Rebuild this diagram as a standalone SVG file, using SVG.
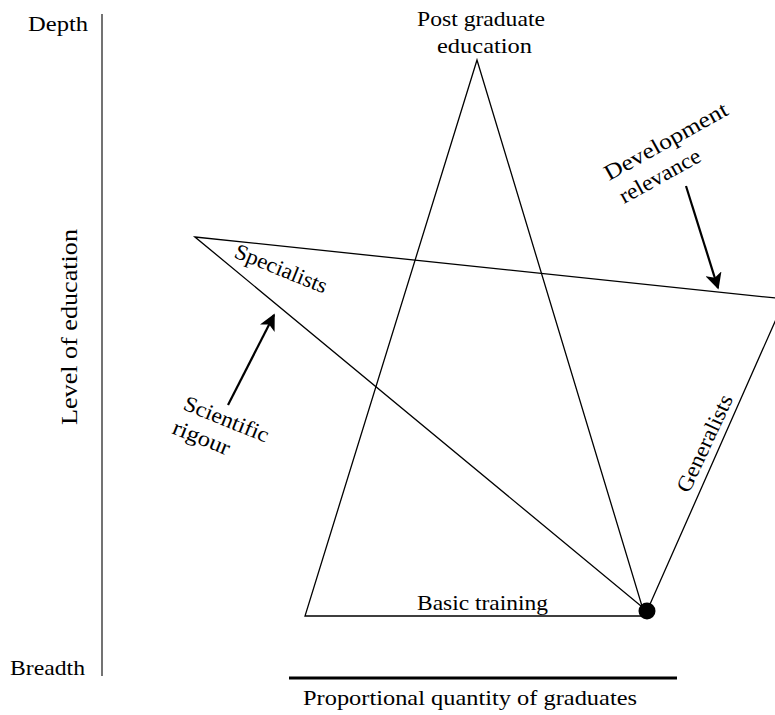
<svg xmlns="http://www.w3.org/2000/svg" width="775" height="715" viewBox="0 0 775 715">
<defs>
<marker id="ah" viewBox="0 0 10 10" refX="9" refY="5" markerWidth="7.5" markerHeight="7.5" markerUnits="strokeWidth" orient="auto">
<path d="M0,0 L10,5 L0,10 L2.5,5 z" fill="#000"/>
</marker>
</defs>
<rect width="775" height="715" fill="#fff"/>
<g id="axes">
<line x1="102" y1="14" x2="102" y2="676" stroke="#444" stroke-width="1.5"/>
<line x1="289" y1="678" x2="677" y2="678" stroke="#000" stroke-width="3"/>
<text x="28" y="31" style="font-family:'Liberation Serif',serif" font-size="22" textLength="60" lengthAdjust="spacingAndGlyphs">Depth</text>
<text x="10" y="675" style="font-family:'Liberation Serif',serif" font-size="22" textLength="75" lengthAdjust="spacingAndGlyphs">Breadth</text>
<text transform="translate(77,327) rotate(-90)" text-anchor="middle" style="font-family:'Liberation Serif',serif" font-size="23" textLength="196" lengthAdjust="spacingAndGlyphs">Level of education</text>
<text x="303" y="705" style="font-family:'Liberation Serif',serif" font-size="22" textLength="334" lengthAdjust="spacingAndGlyphs">Proportional quantity of graduates</text>
</g>
<g id="connectors" fill="none" stroke="#000">
<polygon stroke-width="1.3" points="477,60 305,616 645,616"/>
<polygon stroke-width="1.3" points="195,237 785,299 647,611"/>
<line stroke-width="2.2" x1="686" y1="186" x2="718" y2="288" marker-end="url(#ah)"/>
<line stroke-width="2.2" x1="228" y1="405" x2="274" y2="315" marker-end="url(#ah)"/>
</g>
<g id="node-dot"><circle cx="647" cy="611" r="8.5" fill="#000"/></g>
<g id="node-postgrad">
<text x="417" y="26" style="font-family:'Liberation Serif',serif" font-size="22" textLength="128" lengthAdjust="spacingAndGlyphs">Post graduate</text>
<text x="437" y="53" style="font-family:'Liberation Serif',serif" font-size="22" textLength="95" lengthAdjust="spacingAndGlyphs">education</text>
</g>
<g id="node-basic"><text x="417" y="610" style="font-family:'Liberation Serif',serif" font-size="22" textLength="131" lengthAdjust="spacingAndGlyphs">Basic training</text></g>
<g id="node-specialists"><text transform="translate(233,257) rotate(22)" style="font-family:'Liberation Serif',serif" font-size="22" textLength="98" lengthAdjust="spacingAndGlyphs">Specialists</text></g>
<g id="node-generalists"><text transform="translate(689,494) rotate(-65)" style="font-family:'Liberation Serif',serif" font-size="22" textLength="105" lengthAdjust="spacingAndGlyphs">Generalists</text></g>
<g id="node-devrel">
<text transform="translate(609,181) rotate(-29)" style="font-family:'Liberation Serif',serif" font-size="22" textLength="138" lengthAdjust="spacingAndGlyphs">Development</text>
<text transform="translate(624,204) rotate(-29)" style="font-family:'Liberation Serif',serif" font-size="22" textLength="90" lengthAdjust="spacingAndGlyphs">relevance</text>
</g>
<g id="node-scirig">
<text transform="translate(182,409) rotate(22)" style="font-family:'Liberation Serif',serif" font-size="22" textLength="90" lengthAdjust="spacingAndGlyphs">Scientific</text>
<text transform="translate(171,433) rotate(22)" style="font-family:'Liberation Serif',serif" font-size="22" textLength="60" lengthAdjust="spacingAndGlyphs">rigour</text>
</g>
</svg>
